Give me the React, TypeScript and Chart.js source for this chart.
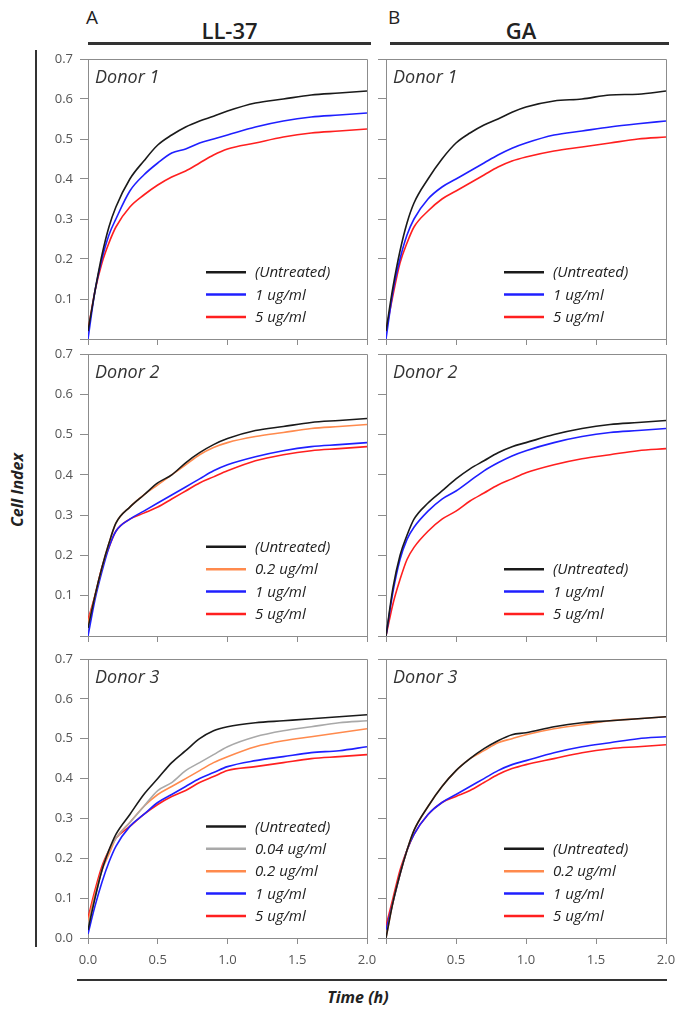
import React, { useEffect, useRef } from 'react';
import { Chart, registerables } from 'chart.js';

Chart.register(...registerables);

// ---------- data ----------
const TIME_H = [0, 0.05, 0.1, 0.15, 0.2, 0.3, 0.4, 0.5, 0.6, 0.7, 0.8, 0.9, 1.0, 1.2, 1.4, 1.6, 1.8, 2.0];
const X_TICKS = [0, 0.5, 1.0, 1.5, 2.0];
const Y_TICKS = [0, 0.1, 0.2, 0.3, 0.4, 0.5, 0.6, 0.7];

const COLUMN_TITLES = ['LL-37', 'GA'];
const COLUMN_LETTERS = ['A', 'B'];
const DONORS = ['Donor 1', 'Donor 2', 'Donor 3'];
const Y_TITLE = 'Cell Index';
const X_TITLE = 'Time (h)';

const LBL_UNTREATED = '(Untreated)';
const LBL_004 = '0.04 ug/ml';
const LBL_02 = '0.2 ug/ml';
const LBL_1 = '1 ug/ml';
const LBL_5 = '5 ug/ml';

const COL_UNTREATED = '#1a1a1a';
const COL_004 = '#a9a9a9';
const COL_02 = '#ff8a4d';
const COL_1 = '#1f1fff';
const COL_5 = '#ff1f1f';

// LL-37 Donor 1
const LL_D1_UNT = [0.02, 0.12, 0.21, 0.28, 0.33, 0.40, 0.445, 0.485, 0.51, 0.53, 0.545, 0.557, 0.57, 0.59, 0.60, 0.61, 0.615, 0.62];
const LL_D1_1 = [0.0, 0.12, 0.2, 0.26, 0.30, 0.37, 0.41, 0.44, 0.465, 0.475, 0.49, 0.50, 0.51, 0.53, 0.545, 0.555, 0.56, 0.565];
const LL_D1_5 = [0.02, 0.12, 0.19, 0.24, 0.28, 0.33, 0.36, 0.385, 0.405, 0.42, 0.44, 0.46, 0.475, 0.49, 0.505, 0.515, 0.52, 0.525];
// GA Donor 1
const GA_D1_UNT = [0.02, 0.13, 0.22, 0.29, 0.34, 0.40, 0.45, 0.49, 0.515, 0.535, 0.55, 0.567, 0.58, 0.595, 0.60, 0.61, 0.612, 0.62];
const GA_D1_1 = [0.0, 0.12, 0.2, 0.26, 0.30, 0.35, 0.38, 0.40, 0.42, 0.44, 0.46, 0.477, 0.49, 0.51, 0.52, 0.53, 0.538, 0.545];
const GA_D1_5 = [0.02, 0.11, 0.19, 0.24, 0.28, 0.32, 0.35, 0.37, 0.39, 0.41, 0.43, 0.445, 0.455, 0.47, 0.48, 0.49, 0.50, 0.505];
// LL-37 Donor 2
const LL_D2_UNT = [0.02, 0.1, 0.17, 0.23, 0.28, 0.32, 0.35, 0.38, 0.40, 0.43, 0.455, 0.475, 0.49, 0.51, 0.52, 0.53, 0.535, 0.54];
const LL_D2_02 = [0.03, 0.1, 0.17, 0.23, 0.28, 0.32, 0.35, 0.375, 0.40, 0.425, 0.45, 0.468, 0.48, 0.495, 0.505, 0.515, 0.52, 0.525];
const LL_D2_1 = [0.0, 0.09, 0.16, 0.22, 0.26, 0.29, 0.31, 0.33, 0.35, 0.37, 0.39, 0.41, 0.425, 0.445, 0.46, 0.47, 0.475, 0.48];
const LL_D2_5 = [0.04, 0.1, 0.17, 0.22, 0.26, 0.29, 0.305, 0.32, 0.34, 0.36, 0.38, 0.395, 0.41, 0.435, 0.45, 0.46, 0.465, 0.47];
// GA Donor 2
const GA_D2_UNT = [0.0, 0.12, 0.2, 0.25, 0.29, 0.33, 0.36, 0.39, 0.415, 0.435, 0.455, 0.47, 0.48, 0.50, 0.515, 0.525, 0.53, 0.535];
const GA_D2_1 = [0.0, 0.11, 0.19, 0.24, 0.27, 0.31, 0.34, 0.36, 0.385, 0.41, 0.43, 0.447, 0.46, 0.48, 0.495, 0.505, 0.51, 0.515];
const GA_D2_5 = [0.0, 0.08, 0.14, 0.19, 0.22, 0.26, 0.29, 0.31, 0.335, 0.355, 0.375, 0.39, 0.405, 0.425, 0.44, 0.45, 0.46, 0.465];
// LL-37 Donor 3
const LL_D3_UNT = [0.02, 0.1, 0.17, 0.22, 0.26, 0.31, 0.36, 0.40, 0.44, 0.47, 0.50, 0.52, 0.53, 0.54, 0.545, 0.55, 0.555, 0.56];
const LL_D3_004 = [0.03, 0.1, 0.17, 0.22, 0.25, 0.29, 0.33, 0.37, 0.39, 0.42, 0.44, 0.46, 0.48, 0.505, 0.52, 0.53, 0.54, 0.545];
const LL_D3_02 = [0.04, 0.11, 0.17, 0.21, 0.25, 0.29, 0.33, 0.36, 0.38, 0.40, 0.42, 0.44, 0.455, 0.48, 0.495, 0.505, 0.515, 0.525];
const LL_D3_1 = [0.01, 0.08, 0.14, 0.19, 0.23, 0.28, 0.31, 0.34, 0.36, 0.38, 0.40, 0.415, 0.43, 0.445, 0.455, 0.465, 0.47, 0.48];
const LL_D3_5 = [0.05, 0.12, 0.18, 0.22, 0.25, 0.28, 0.31, 0.335, 0.355, 0.37, 0.39, 0.405, 0.42, 0.43, 0.44, 0.45, 0.455, 0.46];
// GA Donor 3
const GA_D3_UNT = [0.0, 0.09, 0.16, 0.22, 0.27, 0.33, 0.38, 0.42, 0.45, 0.475, 0.495, 0.51, 0.515, 0.53, 0.54, 0.545, 0.55, 0.555];
const GA_D3_02 = [0.0, 0.09, 0.16, 0.22, 0.27, 0.33, 0.38, 0.42, 0.45, 0.47, 0.49, 0.50, 0.51, 0.525, 0.535, 0.545, 0.55, 0.555];
const GA_D3_1 = [0.02, 0.09, 0.16, 0.22, 0.26, 0.31, 0.34, 0.36, 0.38, 0.40, 0.42, 0.435, 0.445, 0.465, 0.48, 0.49, 0.50, 0.505];
const GA_D3_5 = [0.03, 0.1, 0.17, 0.22, 0.26, 0.31, 0.34, 0.355, 0.37, 0.39, 0.41, 0.425, 0.435, 0.45, 0.465, 0.475, 0.48, 0.485];

// ---------- layout ----------
const FONT = '"Open Sans", "DejaVu Sans", sans-serif';
const AXIS_COLOR = '#8c8c8c';

type Series = { label: string; color: string; values: number[] };
type PanelSpec = {
  donor: string;
  series: Series[];
  left: number; top: number; width: number; height: number;
  yAxisW: number; xAxisH: number; padRight: number;
  showYLabels: boolean; showY0: boolean; showXLabels: boolean; hideX0: boolean;
};

const COL_LEFT = { left: 40, width: 339, yAxisW: 48, padRight: 12, showYLabels: true, hideX0: false };
const COL_RIGHT = { left: 374, width: 301, yAxisW: 12, padRight: 9, showYLabels: false, hideX0: true };
const ROW_1 = { top: 49, height: 298, xAxisH: 8, showXLabels: false, showY0: false };
const ROW_2 = { top: 344, height: 300, xAxisH: 8, showXLabels: false, showY0: false };
const ROW_3 = { top: 649, height: 321, xAxisH: 32, showXLabels: true, showY0: true };

const PANELS: PanelSpec[] = [
  { donor: DONORS[0], ...COL_LEFT, ...ROW_1, series: [
    { label: LBL_UNTREATED, color: COL_UNTREATED, values: LL_D1_UNT },
    { label: LBL_1, color: COL_1, values: LL_D1_1 },
    { label: LBL_5, color: COL_5, values: LL_D1_5 },
  ] },
  { donor: DONORS[0], ...COL_RIGHT, ...ROW_1, series: [
    { label: LBL_UNTREATED, color: COL_UNTREATED, values: GA_D1_UNT },
    { label: LBL_1, color: COL_1, values: GA_D1_1 },
    { label: LBL_5, color: COL_5, values: GA_D1_5 },
  ] },
  { donor: DONORS[1], ...COL_LEFT, ...ROW_2, series: [
    { label: LBL_UNTREATED, color: COL_UNTREATED, values: LL_D2_UNT },
    { label: LBL_02, color: COL_02, values: LL_D2_02 },
    { label: LBL_1, color: COL_1, values: LL_D2_1 },
    { label: LBL_5, color: COL_5, values: LL_D2_5 },
  ] },
  { donor: DONORS[1], ...COL_RIGHT, ...ROW_2, series: [
    { label: LBL_UNTREATED, color: COL_UNTREATED, values: GA_D2_UNT },
    { label: LBL_1, color: COL_1, values: GA_D2_1 },
    { label: LBL_5, color: COL_5, values: GA_D2_5 },
  ] },
  { donor: DONORS[2], ...COL_LEFT, ...ROW_3, series: [
    { label: LBL_UNTREATED, color: COL_UNTREATED, values: LL_D3_UNT },
    { label: LBL_004, color: COL_004, values: LL_D3_004 },
    { label: LBL_02, color: COL_02, values: LL_D3_02 },
    { label: LBL_1, color: COL_1, values: LL_D3_1 },
    { label: LBL_5, color: COL_5, values: LL_D3_5 },
  ] },
  { donor: DONORS[2], ...COL_RIGHT, ...ROW_3, series: [
    { label: LBL_UNTREATED, color: COL_UNTREATED, values: GA_D3_UNT },
    { label: LBL_02, color: COL_02, values: GA_D3_02 },
    { label: LBL_1, color: COL_1, values: GA_D3_1 },
    { label: LBL_5, color: COL_5, values: GA_D3_5 },
  ] },
];

const framePlugin = {
  id: 'frameAndLegend',
  afterDraw(chart: any) {
    const { ctx, chartArea } = chart;
    const { left, right, top, bottom } = chartArea;
    const opts = chart.options.plugins.frameAndLegend || {};
    ctx.save();
    // top and right frame lines
    ctx.strokeStyle = AXIS_COLOR;
    ctx.lineWidth = 1;
    ctx.beginPath();
    ctx.moveTo(left, Math.round(top) + 0.5);
    ctx.lineTo(Math.round(right) + 0.5, Math.round(top) + 0.5);
    ctx.lineTo(Math.round(right) + 0.5, bottom);
    ctx.stroke();

    // donor label
    ctx.fillStyle = '#333';
    ctx.font = `italic 18px ${FONT}`;
    ctx.textBaseline = 'middle';
    ctx.textAlign = 'left';
    ctx.fillText(opts.donor || '', left + 7, top + 19);

    // legend
    const ds = chart.data.datasets;
    const n = ds.length;
    const lx = left + 118;
    ctx.font = `italic 15px ${FONT}`;
    for (let i = 0; i < n; i++) {
      const y = bottom - 22 - (n - 1 - i) * 22.4;
      ctx.strokeStyle = ds[i].borderColor;
      ctx.lineWidth = 2.5;
      ctx.beginPath();
      ctx.moveTo(lx, y);
      ctx.lineTo(lx + 40, y);
      ctx.stroke();
      ctx.fillStyle = '#222';
      ctx.fillText(ds[i].label, lx + 49, y + 1);
    }
    ctx.restore();
  },
};

function Panel({ spec }: { spec: PanelSpec }) {
  const ref = useRef<HTMLCanvasElement>(null);
  useEffect(() => {
    const gridOpts = (len: number) => ({
      display: true,
      drawOnChartArea: false,
      drawTicks: true,
      tickLength: len,
      color: AXIS_COLOR,
      lineWidth: 1,
    });
    const zeroPad = (s: any) => {
      s.paddingLeft = 0;
      s.paddingRight = 0;
      s.paddingTop = 0;
      s.paddingBottom = 0;
    };
    const chart = new Chart(ref.current as HTMLCanvasElement, {
      type: 'line',
      data: {
        datasets: spec.series.map((s) => ({
          label: s.label,
          data: TIME_H.map((t, i) => ({ x: t, y: s.values[i] })),
          borderColor: s.color,
          backgroundColor: s.color,
          borderWidth: 1.6,
          pointRadius: 0,
          fill: false,
          cubicInterpolationMode: 'monotone' as const,
        })),
      },
      options: {
        animation: false,
        responsive: false,
        events: [],
        layout: { padding: { top: 10, right: spec.padRight, left: 0, bottom: 0 } },
        plugins: {
          legend: { display: false },
          tooltip: { enabled: false },
          frameAndLegend: { donor: spec.donor },
        } as any,
        scales: {
          x: {
            type: 'linear',
            min: 0,
            max: 2,
            afterBuildTicks: (s: any) => { s.ticks = X_TICKS.map((v) => ({ value: v })); },
            afterFit: (s: any) => { s.height = spec.xAxisH; zeroPad(s); },
            grid: gridOpts(6),
            border: { display: true, color: AXIS_COLOR, width: 1 },
            ticks: {
              display: spec.showXLabels,
              autoSkip: false,
              maxRotation: 0,
              padding: 8,
              color: '#555',
              font: { family: FONT, size: 13 },
              callback: (v: any) => (spec.hideX0 && Number(v) === 0 ? '' : Number(v).toFixed(1)),
            },
          },
          y: {
            type: 'linear',
            min: 0,
            max: 0.7,
            afterBuildTicks: (s: any) => { s.ticks = Y_TICKS.map((v) => ({ value: v })); },
            afterFit: (s: any) => { s.width = spec.yAxisW; zeroPad(s); },
            grid: gridOpts(8),
            border: { display: true, color: AXIS_COLOR, width: 1 },
            ticks: {
              display: spec.showYLabels,
              autoSkip: false,
              padding: 7,
              color: '#555',
              font: { family: FONT, size: 13 },
              callback: (v: any) => (!spec.showY0 && Number(v) === 0 ? '' : Number(v).toFixed(1)),
            },
          },
        },
      } as any,
      plugins: [framePlugin],
    });
    return () => chart.destroy();
  }, []);
  return (
    <canvas
      ref={ref}
      width={spec.width}
      height={spec.height}
      style={{ position: 'absolute', left: spec.left, top: spec.top, width: spec.width, height: spec.height }}
    />
  );
}

export default function App() {
  const text = (style: React.CSSProperties, content: string) => (
    <div style={{ position: 'absolute', fontFamily: FONT, color: '#222', whiteSpace: 'nowrap', lineHeight: 1, ...style }}>{content}</div>
  );
  return (
    <div style={{ position: 'absolute', left: 0, top: 0, width: 675, height: 1010, background: '#fff', overflow: 'hidden' }}>
      {/* column headers */}
      {text({ left: 86, top: 8, fontSize: 19 }, COLUMN_LETTERS[0])}
      {text({ left: 388, top: 8, fontSize: 19 }, COLUMN_LETTERS[1])}
      {text({ left: 88, width: 283, top: 19, fontSize: 22, fontWeight: 600, textAlign: 'center' }, COLUMN_TITLES[0])}
      {text({ left: 390, width: 262, top: 19, fontSize: 22, fontWeight: 600, textAlign: 'center' }, COLUMN_TITLES[1])}
      <div style={{ position: 'absolute', left: 88, top: 42, width: 283, height: 3, background: '#333' }} />
      <div style={{ position: 'absolute', left: 390, top: 42, width: 279, height: 3, background: '#333' }} />
      {/* axis title bars */}
      <div style={{ position: 'absolute', left: 35, top: 50, width: 2, height: 897, background: '#333' }} />
      <div style={{ position: 'absolute', left: 77, top: 979, width: 590, height: 2, background: '#333' }} />
      {text({ left: 17, top: 490, fontSize: 16, fontWeight: 700, fontStyle: 'italic', transform: 'translate(-50%, -50%) rotate(-90deg)' }, Y_TITLE)}
      {text({ left: 358, top: 997, fontSize: 16, fontWeight: 700, fontStyle: 'italic', transform: 'translate(-50%, -50%)' }, X_TITLE)}
      {PANELS.map((p, i) => <Panel key={i} spec={p} />)}
    </div>
  );
}
